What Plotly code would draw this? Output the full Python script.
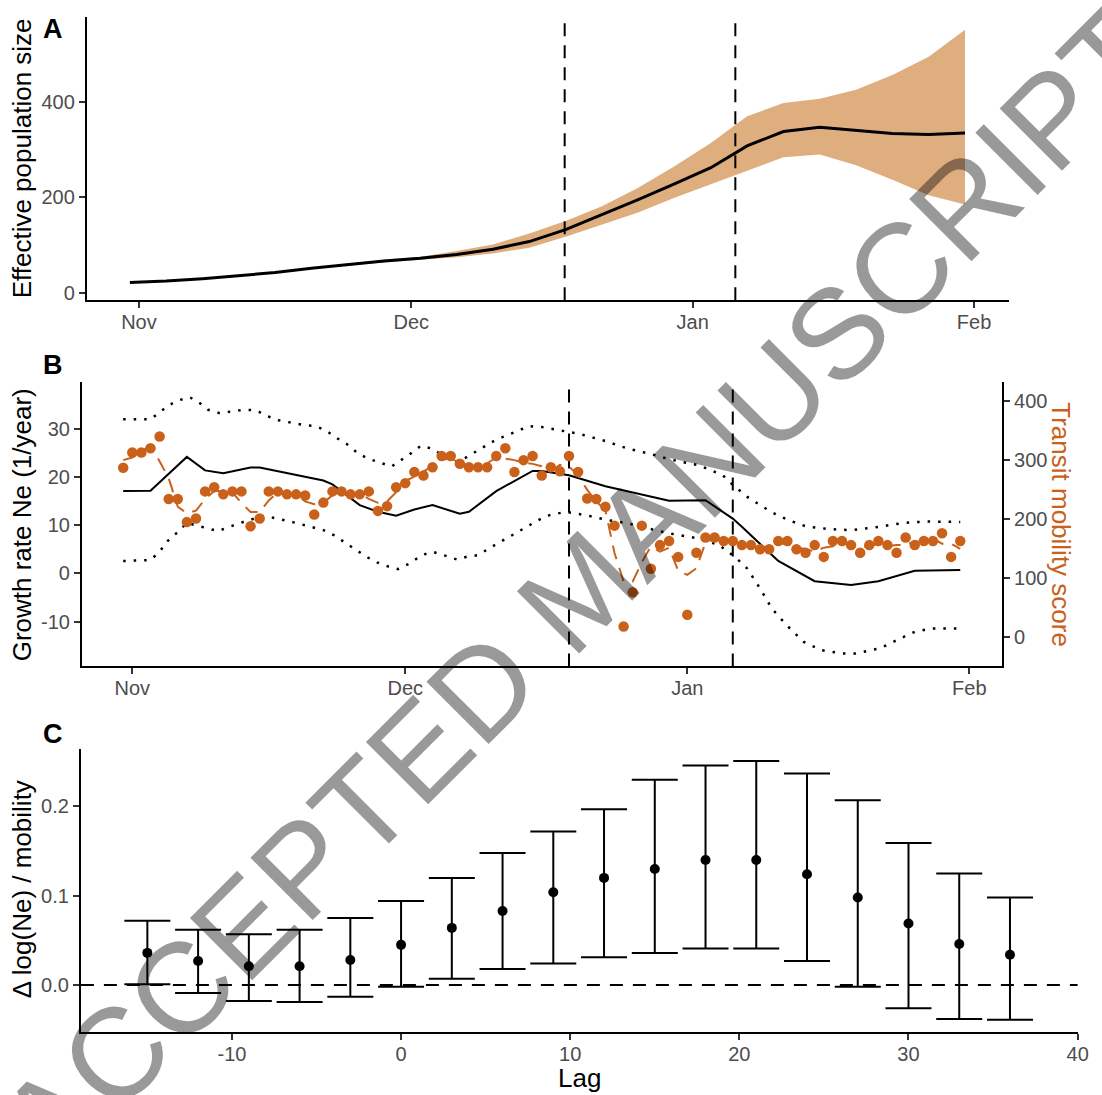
import pandas as pd
import plotly.graph_objects as go

W, H = 1102, 1095
BASE = pd.Timestamp("2020-11-01")
FONT = "Liberation Sans, Arial, sans-serif"
ORANGE = "#C9611B"
BAND = "#DFAE7F"
TICKC = "#4D4D4D"

# ---------------- Panel A: effective population size ----------------
ne_days = [-1, 3, 7, 11, 15, 19, 23, 27, 31, 35, 39, 43, 47, 51, 55, 59, 63, 67, 71, 75, 79, 83, 87, 91]
ne_mid = [21, 24, 29, 35, 42, 51, 59, 66, 72, 80, 91, 107, 132, 163, 195, 228, 262, 308, 338, 347, 341, 334, 332, 335]
ne_hi = [21, 24, 29, 35, 42, 52, 61, 69, 75, 87, 101, 124, 150, 181, 220, 265, 314, 370, 398, 407, 426, 457, 495, 552]
ne_lo = [21, 24, 29, 35, 42, 50, 57, 63, 69, 74, 82, 94, 117, 142, 168, 199, 227, 255, 284, 290, 267, 237, 204, 185]

# ---------------- Panel B: growth rate & mobility ----------------
gr_days = [-1, 2, 6, 8, 10, 13, 14, 17, 21, 22, 25, 27, 29, 31, 33, 36, 37, 40, 44, 45, 48, 52, 59, 63, 66, 67, 71, 75, 79, 82, 86, 91]
gr_mid = [17.1, 17.2, 24.2, 21.4, 20.8, 22.0, 22.0, 20.8, 19.3, 18.5, 14.2, 12.8, 12.0, 13.3, 14.2, 12.4, 12.8, 17.1, 21.3, 21.3, 20.4, 18.1, 15.1, 15.2, 11.4, 9.7, 2.6, -1.6, -2.4, -1.6, 0.55, 0.7]

gr_hi_days = [-1, 2, 4, 5, 6.3, 7.4, 8.3, 9.6, 12.3, 13.6, 14.8, 16.1, 18.6, 20.1, 21.3, 22.4, 23.8, 24.8, 26, 27.2, 28.5, 29.5, 30.6, 31.7, 33, 34.1, 35.4, 36.6, 38.7, 40, 41.2, 42.3, 43.6, 45, 49.1, 51.8, 54.5, 56.8, 59.3, 62.2, 64.9, 66, 67.6, 69, 70.6, 72.1, 74, 76.7, 79, 82.1, 84.8, 87.4, 91]
gr_hi = [32.0, 32.0, 34.9, 35.9, 36.6, 35.4, 34.0, 33.3, 34.0, 33.9, 32.7, 31.8, 30.9, 30.6, 29.7, 28.2, 26.6, 24.9, 23.8, 23.0, 22.2, 23.5, 24.9, 26.5, 25.9, 24.5, 23.1, 24.0, 26.3, 27.8, 28.7, 29.5, 30.6, 30.4, 29.0, 27.6, 25.9, 24.9, 23.6, 22.5, 20.4, 18.4, 15.9, 14.2, 12.4, 11.1, 9.8, 9.2, 9.0, 9.7, 10.5, 10.8, 10.7]

gr_lo_days = [-1, 2, 3, 3.8, 5, 6, 8, 9.4, 10.7, 12.2, 14.3, 15.7, 18, 19.7, 21, 22.2, 24.6, 25.7, 26.9, 28.2, 29.2, 30.5, 31.8, 33, 34.4, 35.7, 36.8, 38, 39.2, 40.3, 41.7, 42.9, 44.2, 45.4, 47.6, 49.9, 52.2, 54.5, 56.8, 59.1, 62.2, 64.5, 66.4, 67.6, 69, 70.3, 71.9, 73.8, 75.7, 78, 79.5, 82.2, 84.4, 86, 87.9, 91]
gr_lo = [2.6, 2.8, 4.5, 6.6, 8.6, 10.5, 9.5, 8.8, 9.7, 10.7, 11.9, 11.5, 10.5, 9.7, 9.0, 7.9, 4.8, 3.5, 2.3, 1.4, 0.9, 2.1, 3.8, 4.5, 3.7, 2.9, 3.5, 3.8, 5.2, 6.4, 7.9, 9.3, 10.7, 11.9, 12.8, 12.1, 11.1, 10.4, 9.3, 8.3, 7.3, 5.9, 3.2, 1.0, -3.1, -7.3, -10.7, -14.2, -15.9, -16.6, -16.6, -15.5, -13.5, -12.1, -11.4, -11.4]

mob_days = list(range(-1, 92))
mob = [286, 312, 312, 319, 339, 233, 233, 194, 200, 246, 253, 241, 246, 246, 187, 200, 246, 246, 241, 241,
       239, 207, 227, 246, 246, 241, 241, 246, 213, 221, 253, 260, 279, 273, 287, 306, 306, 293, 287, 287,
       287, 306, 319, 279, 299, 306, 273, 287, 280, 306, 279, 234, 233, 220, 188, 17, 75, 188, 115, 155,
       162, 135, 37, 142, 168, 168, 162, 162, 155, 155, 148, 148, 162, 162, 148, 142, 155, 135, 162, 162,
       155, 142, 155, 162, 155, 142, 168, 155, 162, 162, 175, 135, 162]

# reference dates (dashed vertical lines), days after Nov 1
vline_days_a = [46.9, 65.7]
vline_days_b = [48.0, 66.0]

# ---------------- Panel C: lag effect ----------------
lags = [-15, -12, -9, -6, -3, 0, 3, 6, 9, 12, 15, 18, 21, 24, 27, 30, 33, 36]
eff = [0.036, 0.027, 0.021, 0.021, 0.028, 0.045, 0.064, 0.083, 0.104, 0.120, 0.130, 0.140, 0.140, 0.124, 0.098, 0.069, 0.046, 0.034]
eff_hi = [0.072, 0.062, 0.057, 0.062, 0.075, 0.094, 0.120, 0.148, 0.172, 0.197, 0.230, 0.246, 0.251, 0.237, 0.207, 0.159, 0.125, 0.098]
eff_lo = [0.001, -0.009, -0.018, -0.019, -0.013, -0.002, 0.007, 0.018, 0.024, 0.031, 0.036, 0.041, 0.041, 0.027, -0.002, -0.026, -0.038, -0.039]

month_ticks = ["2020-11-01", "2020-12-01", "2021-01-01", "2021-02-01"]
month_labels = ["Nov", "Dec", "Jan", "Feb"]
gr_ticks = [-10, 0, 10, 20, 30]
gr_labels = ["-10", "0", "10", "20", "30"]
lag_ticks = [-10, 0, 10, 20, 30, 40]
lag_labels = ["-10", "0", "10", "20", "30", "40"]


def to_dates(days):
    return [BASE + pd.Timedelta(days=float(d)) for d in days]


def px_x(x):
    return x / W


def xd(l, r):
    return [px_x(l), px_x(r)]


def yd(top, bottom):
    return [1 - bottom / H, 1 - top / H]


fig = go.Figure()

# Panel A
da = to_dates(ne_days)
fig.add_trace(go.Scatter(x=da, y=ne_lo, mode="lines", line=dict(width=0), hoverinfo="skip",
                         showlegend=False, xaxis="x", yaxis="y"))
fig.add_trace(go.Scatter(x=da, y=ne_hi, mode="lines", line=dict(width=0), fill="tonexty",
                         fillcolor=BAND, showlegend=False, xaxis="x", yaxis="y"))
fig.add_trace(go.Scatter(x=da, y=ne_mid, mode="lines", line=dict(color="black", width=3),
                         showlegend=False, xaxis="x", yaxis="y"))

# Panel B
fig.add_trace(go.Scatter(x=to_dates(gr_hi_days), y=gr_hi, mode="lines",
                         line=dict(color="black", width=2.5, dash="2.5px,8px"),
                         showlegend=False, xaxis="x2", yaxis="y2"))
fig.add_trace(go.Scatter(x=to_dates(gr_lo_days), y=gr_lo, mode="lines",
                         line=dict(color="black", width=2.5, dash="2.5px,8px"),
                         showlegend=False, xaxis="x2", yaxis="y2"))
fig.add_trace(go.Scatter(x=to_dates(gr_days), y=gr_mid, mode="lines",
                         line=dict(color="black", width=2),
                         showlegend=False, xaxis="x2", yaxis="y2"))
mob_smooth = pd.Series(mob).rolling(3, center=True, min_periods=1).mean().tolist()
dm = to_dates(mob_days)
fig.add_trace(go.Scatter(x=dm, y=mob_smooth, mode="lines",
                         line=dict(color=ORANGE, width=2, dash="14px,9px"),
                         showlegend=False, xaxis="x2", yaxis="y3"))
fig.add_trace(go.Scatter(x=dm, y=mob, mode="markers",
                         marker=dict(color=ORANGE, size=10.5),
                         showlegend=False, xaxis="x2", yaxis="y3"))

# Panel C
fig.add_trace(go.Scatter(
    x=lags, y=eff, mode="markers", marker=dict(color="black", size=10),
    error_y=dict(type="data", symmetric=False,
                 array=[h - e for h, e in zip(eff_hi, eff)],
                 arrayminus=[e - l for e, l in zip(eff, eff_lo)],
                 color="black", thickness=2, width=23),
    showlegend=False, xaxis="x3", yaxis="y4"))

shapes = []
for d in vline_days_a:
    t = BASE + pd.Timedelta(days=d)
    shapes.append(dict(type="line", xref="x", yref="y domain", x0=t, x1=t, y0=0, y1=1,
                       line=dict(color="black", width=2, dash="13px,9px"), layer="above"))
for d in vline_days_b:
    t = BASE + pd.Timedelta(days=d)
    shapes.append(dict(type="line", xref="x2", yref="y2 domain", x0=t, x1=t, y0=0, y1=1,
                       line=dict(color="black", width=2, dash="13px,9px"), layer="below"))
shapes.append(dict(type="line", xref="x3 domain", yref="y4", x0=0, x1=1, y0=0, y1=0,
                   line=dict(color="black", width=2, dash="13px,10px"), layer="below"))

axis_common = dict(showgrid=False, zeroline=False, showline=True, linecolor="black", linewidth=2,
                   ticks="outside", ticklen=6, tickwidth=2, tickcolor="#333333",
                   tickfont=dict(family=FONT, size=20, color=TICKC))


def day_to_date(d):
    return BASE + pd.Timedelta(days=d)


fig.update_layout(
    width=W, height=H, margin=dict(l=0, r=0, t=0, b=0),
    paper_bgcolor="white", plot_bgcolor="rgba(0,0,0,0)",
    font=dict(family=FONT),
    shapes=shapes,
    xaxis=dict(axis_common, domain=xd(87.7, 1019.2), anchor="y", type="date",
               range=[day_to_date(-5.74), day_to_date(95.85)],
               tickvals=month_ticks, ticktext=month_labels, ticklabelstandoff=-3),
    yaxis=dict(axis_common, domain=yd(16.7, 301), anchor="x", range=[-16.1, 579.3],
               tickvals=[0, 200, 400]),
    xaxis2=dict(axis_common, domain=xd(82.8, 1012.2), anchor="y2", type="date",
                range=[day_to_date(-5.53), day_to_date(95.6)],
                tickvals=month_ticks, ticktext=month_labels, ticklabelstandoff=-3),
    yaxis2=dict(axis_common, domain=yd(383.3, 668.3), anchor="x2", range=[-19.3, 39.7],
                tickvals=gr_ticks, ticktext=gr_labels),
    yaxis3=dict(axis_common, overlaying="y2", side="right", anchor="x2", range=[-50.7, 431],
                tickvals=[0, 100, 200, 300, 400]),
    xaxis3=dict(axis_common, domain=xd(81.7, 1088.5), anchor="y4", range=[-18.93, 40.0],
                tickvals=lag_ticks, ticktext=lag_labels, ticklabelstandoff=-3),
    yaxis4=dict(axis_common, domain=yd(750.7, 1035), anchor="x3", range=[-0.0528, 0.2648],
                tickvals=[0, 0.1, 0.2], ticktext=["0.0", "0.1", "0.2"]),
)

ann = []
title_font = dict(family=FONT, size=26, color="black")
ann.append(dict(text="Effective population size", x=px_x(22), y=1 - 159 / H, xref="paper", yref="paper",
                textangle=-90, showarrow=False, font=title_font, xanchor="center", yanchor="middle"))
ann.append(dict(text="Growth rate Ne (1/year)", x=px_x(22), y=1 - 526 / H, xref="paper", yref="paper",
                textangle=-90, showarrow=False, font=title_font, xanchor="center", yanchor="middle"))
ann.append(dict(text="Transit mobility score", x=px_x(1072), y=1 - 526 / H, xref="paper", yref="paper",
                textangle=90, showarrow=False, font=dict(family=FONT, size=26, color=ORANGE),
                xanchor="center", yanchor="middle"))
ann.append(dict(text="\u0394 log(Ne) / mobility", x=px_x(22), y=1 - 892 / H, xref="paper", yref="paper",
                textangle=-90, showarrow=False, font=title_font, xanchor="center", yanchor="middle"))
ann.append(dict(text="Lag", x=px_x(585), y=1 - 1081 / H, xref="paper", yref="paper",
                showarrow=False, font=title_font, xanchor="center", yanchor="middle"))
for letter, yy in [("A", 29.5), ("B", 366), ("C", 736)]:
    ann.append(dict(text="<b>%s</b>" % letter, x=px_x(41), y=1 - yy / H, xref="paper", yref="paper",
                    showarrow=False, font=dict(family=FONT, size=27, color="black"),
                    xanchor="left", yanchor="middle"))
ann.append(dict(text="ACCEPTED MANUSCRIPT", x=px_x(586), y=1 - 591 / H, xref="paper", yref="paper",
                textangle=-45, showarrow=False,
                font=dict(family=FONT, size=128, color="rgba(0,0,0,0.4)"),
                xanchor="center", yanchor="middle"))
fig.update_layout(annotations=ann)

fig.write_html("out.html")
